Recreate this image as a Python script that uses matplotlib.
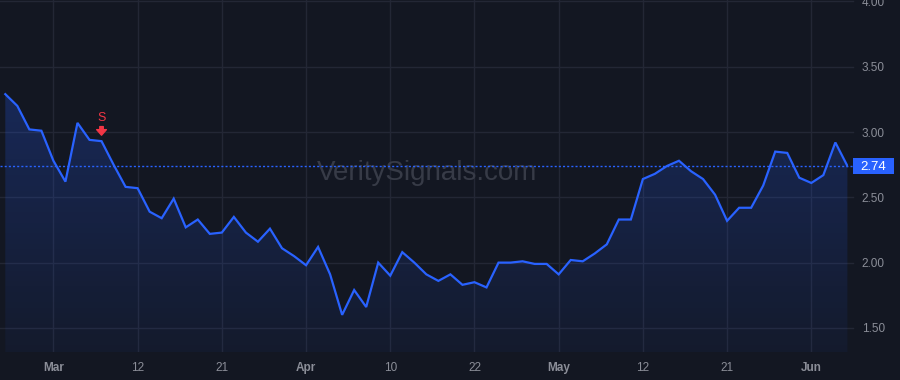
import numpy as np
import matplotlib
matplotlib.use('Agg')
import matplotlib.pyplot as plt
from matplotlib.patches import Rectangle
import matplotlib.transforms as mtransforms

# daily closes (one point per trading day)
values = [3.29, 3.20, 3.02, 3.01, 2.78, 2.62, 3.07, 2.94, 2.93, 2.75,
          2.58, 2.57, 2.39, 2.34, 2.49, 2.27, 2.33, 2.22, 2.23, 2.35,
          2.23, 2.16, 2.26, 2.11, 2.05, 1.98, 2.12, 1.91, 1.60, 1.79,
          1.66, 2.00, 1.90, 2.08, 2.00, 1.91, 1.86, 1.91, 1.83, 1.85,
          1.81, 2.00, 2.00, 2.01, 1.99, 1.99, 1.91, 2.02, 2.01, 2.07,
          2.14, 2.33, 2.33, 2.64, 2.68, 2.74, 2.78, 2.70, 2.64, 2.52,
          2.32, 2.42, 2.42, 2.59, 2.85, 2.84, 2.65, 2.61, 2.67, 2.92,
          2.74]
tick_index = [4, 11, 18, 25, 32, 39, 46, 53, 60, 67]
tick_labels = ['Mar', '12', '21', 'Apr', '10', '22', 'May', '12', '21', 'Jun']
month_labels = ['Mar', 'Apr', 'May', 'Jun']
y_ticks = [1.5, 2.0, 2.5, 3.0, 3.5, 4.0]
signal_index = 8
signal_text = 'S'
watermark = 'VeritySignals.com'

bg = '#131722'
blue = '#2962ff'
red = '#f23645'
grid_c = '#232735'
txt_c = '#8b8e98'

plt.rcParams['font.family'] = ['Liberation Sans', 'DejaVu Sans']

x = np.arange(len(values))
y = np.array(values)

fig = plt.figure(figsize=(9, 3.8), dpi=100, facecolor=bg)
ax = fig.add_axes([0, 28 / 380, 848 / 900, 352 / 380])
ax.set_facecolor(bg)
ax.set_xlim(-0.44, 70.05)
ax.set_ylim(1.3155, 4.011)

# grid
for t in tick_index:
    ax.axvline(t, color=grid_c, lw=1, zorder=0)
for t in y_ticks:
    ax.axhline(t, color=grid_c, lw=1, zorder=0, xmax=1.006, clip_on=False)

# watermark
ax.text(0.5035, 0.5085, watermark, transform=ax.transAxes, ha='center', va='center',
        fontsize=20, color='#373b47', zorder=1)

# gradient area fill
ymin = ax.get_ylim()[0]
poly = ax.fill_between(x, y, ymin, color='none', lw=0)
grad = np.zeros((200, 2, 4))
grad[:, :, 0] = 0.16
grad[:, :, 1] = 0.38
grad[:, :, 2] = 1.0
grad[:, :, 3] = np.linspace(0.24, 0.05, 200)[:, None]
img = ax.imshow(grad, aspect='auto', extent=[x[0], x[-1], ymin, y.max()],
                origin='upper', zorder=2)
img.set_clip_path(poly.get_paths()[0], transform=ax.transData)
ax.set_xlim(-0.44, 70.05)
ax.set_ylim(1.3155, 4.011)

ax.plot(x, y, color=blue, lw=1.6, zorder=4, solid_joinstyle='miter')

# last price line and label
last = values[-1]
ax.axhline(last, color=blue, lw=1, ls=(0, (1.5, 1.5)), zorder=3, xmax=1.006, clip_on=False)
trans = mtransforms.blended_transform_factory(ax.transAxes, ax.transData)
ax.add_patch(Rectangle((1.0059, last - 0.061), 41 / 848, 0.1225, transform=trans,
                       facecolor=blue, edgecolor='none', clip_on=False, zorder=5))
ax.text(1.0301, last - 0.005, f'{last:.2f}', transform=trans, ha='center', va='center',
        color='white', fontsize=9.5, zorder=6, clip_on=False)

# sell signal marker
sv = values[signal_index]
ax.annotate(signal_text, xy=(signal_index, sv), xytext=(0, 16.6), textcoords='offset points',
            ha='center', va='center', color=red, fontsize=9, zorder=6)
ax.annotate('', xy=(signal_index, sv), xytext=(0, 10.5), textcoords='offset points',
            arrowprops=dict(arrowstyle='simple,head_length=0.4,head_width=0.7,tail_width=0.25',
                            color=red, shrinkA=0, shrinkB=4.3, mutation_scale=10), zorder=6)

# axes
for s in ax.spines.values():
    s.set_visible(False)
ax.yaxis.tick_right()
ax.set_yticks(y_ticks)
ax.set_yticklabels([f'{v:.2f}' for v in y_ticks])
ax.tick_params(axis='y', length=0, pad=10, labelsize=8.5, labelcolor=txt_c)
ax.set_xticks(tick_index)
ax.set_xticklabels(tick_labels)
ax.tick_params(axis='x', length=0, pad=7, labelsize=8.5, labelcolor=txt_c)
for lab in ax.get_xticklabels():
    if lab.get_text() in month_labels:
        lab.set_fontweight('bold')

fig.savefig('out.png', dpi=100, facecolor=bg)
